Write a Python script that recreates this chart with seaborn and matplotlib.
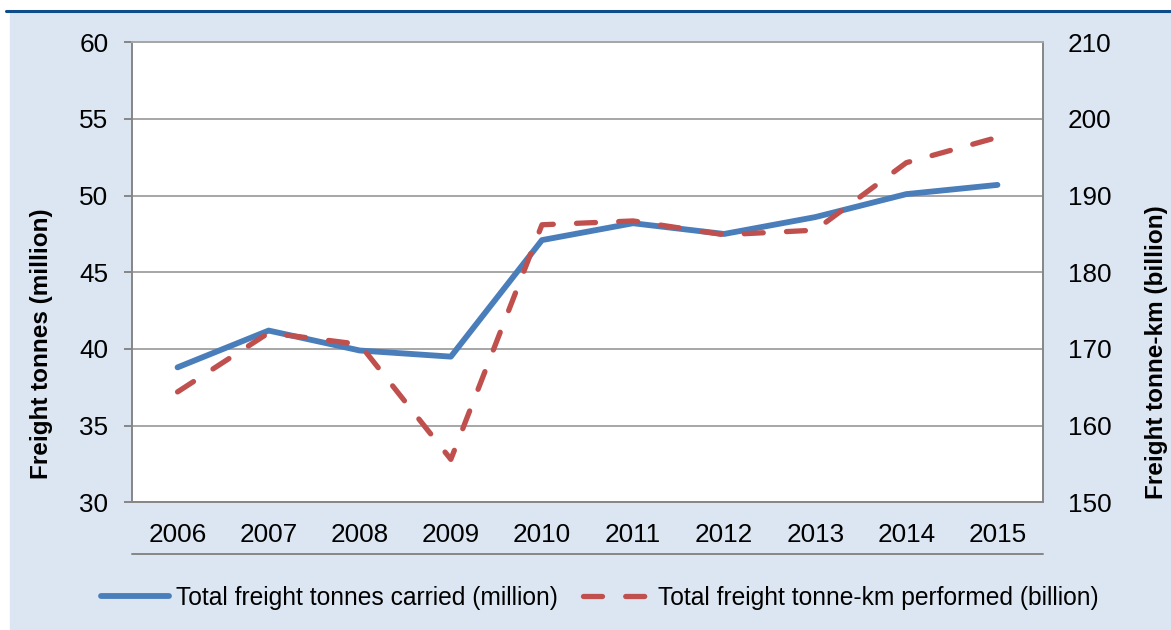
import numpy as np
import pandas as pd
import matplotlib
matplotlib.use("Agg")
import matplotlib.pyplot as plt
from matplotlib.lines import Line2D
from matplotlib.patches import Rectangle
import seaborn as sns

# dados
anos = ["2006", "2007", "2008", "2009", "2010", "2011", "2012", "2013", "2014", "2015"]
toneladas = [38.8, 41.2, 39.9, 39.5, 47.1, 48.2, 47.5, 48.6, 50.1, 50.7]
tonelada_km = [164.4, 172.1, 170.6, 155.6, 186.2, 186.7, 184.9, 185.5, 194.3, 197.6]

rotulo_ton = "Total freight tonnes carried (million)"
rotulo_tkm = "Total freight tonne-km performed (billion)"

azul = "#4a7ebb"
vermelho = "#c0504d"
cinza = "#a6a6a6"
fundo = "#dce6f2"

sns.set_style("white")
plt.rcParams["font.family"] = ["Liberation Sans", "DejaVu Sans"]
plt.rcParams["text.color"] = "black"
plt.rcParams["xtick.color"] = "black"
plt.rcParams["ytick.color"] = "black"

df = pd.DataFrame({"pos": np.arange(len(anos)), "ton": toneladas, "tkm": tonelada_km})

fig = plt.figure(figsize=(11.71, 6.30), dpi=100)
fig.patch.set_facecolor("white")
fig.patches.append(Rectangle((10 / 1171, 0), 1, (630 - 13) / 630,
                             transform=fig.transFigure, color=fundo, zorder=-10))
fig.add_artist(Line2D([6 / 1171, 1], [1 - 11 / 630] * 2, color="#0f4c8a", lw=2.2))

ax = fig.add_axes([132 / 1171, 1 - 502.3 / 630, 911 / 1171, 460 / 630])
ax.set_facecolor("white")
ax2 = ax.twinx()

sns.lineplot(data=df, x="pos", y="ton", ax=ax, color=azul, lw=4.2,
             solid_capstyle="round", legend=False)
sns.lineplot(data=df, x="pos", y="tkm", ax=ax2, color=vermelho, lw=3.8,
             linestyle=(0, (3.6, 4.4)), dash_capstyle="round", legend=False)

ax.set_xlim(-0.5, len(anos) - 0.5)
ax.set_ylim(30, 60)
ax2.set_ylim(150, 210)
ax.set_yticks(np.arange(30, 61, 5))
ax2.set_yticks(np.arange(150, 211, 10))
ax.set_xticks(df["pos"])
ax.set_xticklabels(anos)
ax.set_xticks(np.arange(-0.5, len(anos)), minor=True)

ax.grid(axis="y", color=cinza, lw=1.4)
ax.grid(axis="x", visible=False)
ax2.grid(False)

ax.tick_params(axis="x", which="major", length=0, pad=15, labelsize=18.8)
ax.tick_params(axis="x", which="minor", length=8, width=1.4, color="#868686", direction="out")
ax.tick_params(axis="y", length=6, width=1.4, color="#868686", pad=11, labelsize=18.8, left=True)
ax2.tick_params(axis="y", length=0, pad=18, labelsize=18.8)

for lado in ["left", "bottom", "right"]:
    ax.spines[lado].set_color("#868686")
    ax.spines[lado].set_linewidth(1.4)
ax.spines["top"].set_color(cinza)
ax.spines["top"].set_linewidth(1.4)
for lado in ax2.spines:
    ax2.spines[lado].set_visible(False)

ax.set_xlabel("")
ax.set_ylabel("")
ax2.set_ylabel("")

# linha inferior do eixo de categorias (estilo Excel)
yb = -(554 - 502.3) / 460
ax.add_line(Line2D([0, 1], [yb, yb], transform=ax.transAxes, clip_on=False,
                   color="#868686", lw=1.4))

fig.text(42 / 1171, 1 - 344 / 630, "Freight tonnes (million)", rotation=90,
         ha="center", va="center", fontsize=17.5, fontweight="bold")
fig.text(1157 / 1171, 1 - 352 / 630, "Freight tonne-km (billion)", rotation=90,
         ha="center", va="center", fontsize=17.5, fontweight="bold")

alcas = [Line2D([], [], color=azul, lw=4.2, solid_capstyle="round"),
         Line2D([], [], color=vermelho, lw=3.8, linestyle=(0, (3.6, 4.4)), dash_capstyle="round")]
fig.legend(alcas, [rotulo_ton, rotulo_tkm], loc="center", bbox_to_anchor=(600 / 1171, 1 - 598 / 630),
           ncol=2, frameon=False, fontsize=17.7, handlelength=2.75, handletextpad=0.3,
           columnspacing=1.0)

fig.savefig("out.png", dpi=100, facecolor=fig.get_facecolor())
